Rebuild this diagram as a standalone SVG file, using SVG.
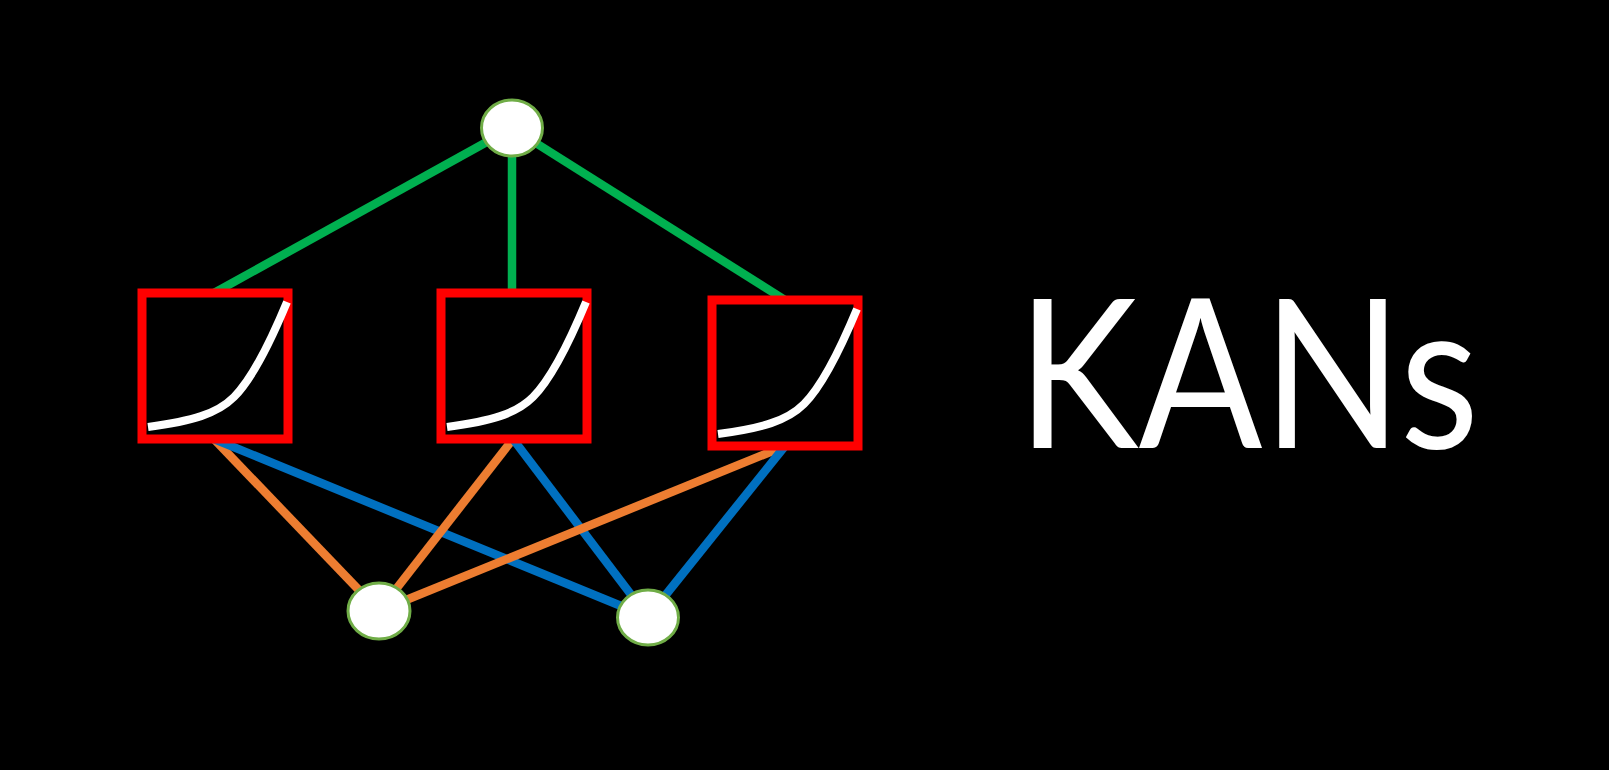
<svg xmlns="http://www.w3.org/2000/svg" width="1609" height="770" viewBox="0 0 1609 770">
<style>
.g{stroke:#00B050;stroke-width:8.5;fill:none}
.o{stroke:#ED7D31;stroke-width:8.5;fill:none}
.b{stroke:#0070C0;stroke-width:8.5;fill:none}
.box{fill:none;stroke:#FF0000;stroke-width:9}
.curve{fill:none;stroke:#FFFFFF;stroke-width:8}
.node{fill:#FFFFFF;stroke:#70AD47;stroke-width:3}
.title{font-family:Lato,"Open Sans",sans-serif;fill:#FFFFFF;font-size:208px}
</style>
<rect x="0" y="0" width="1609" height="770" fill="#000000"/>
<g id="connectors">
<line class="g" x1="512" y1="128" x2="214" y2="293"/>
<line class="g" x1="512" y1="128" x2="512" y2="293"/>
<line class="g" x1="512" y1="128" x2="785" y2="300"/>
<line class="o" x1="214" y1="439" x2="379" y2="611"/>
<line class="b" x1="214" y1="439" x2="648" y2="617"/>
<line class="o" x1="513" y1="439" x2="379" y2="611"/>
<line class="b" x1="513" y1="439" x2="648" y2="617"/>
<line class="o" x1="785" y1="446" x2="379" y2="611"/>
<line class="b" x1="785" y1="446" x2="648" y2="617"/>
</g>
<g id="box1" transform="translate(142,293)">
<rect class="box" x="0" y="0" width="146" height="146"/>
<path class="curve" d="M6,134 C50,128 75,121 92,104 C110,86 128,50 145,9"/>
</g>
<g id="box2" transform="translate(441,293)">
<rect class="box" x="0" y="0" width="146" height="146"/>
<path class="curve" d="M6,134 C50,128 75,121 92,104 C110,86 128,50 145,9"/>
</g>
<g id="box3" transform="translate(712,300)">
<rect class="box" x="0" y="0" width="146" height="146"/>
<path class="curve" d="M6,134 C50,128 75,121 92,104 C110,86 128,50 145,9"/>
</g>
<g id="node-top"><ellipse class="node" cx="512" cy="128" rx="30.5" ry="28"/></g>
<g id="node-left"><ellipse class="node" cx="379" cy="611" rx="31" ry="28"/></g>
<g id="node-right"><ellipse class="node" cx="648" cy="617.5" rx="30.5" ry="27.5"/></g>
<g id="label"><text class="title" x="1017" y="448" textLength="462" lengthAdjust="spacingAndGlyphs">KANs</text></g>
</svg>
